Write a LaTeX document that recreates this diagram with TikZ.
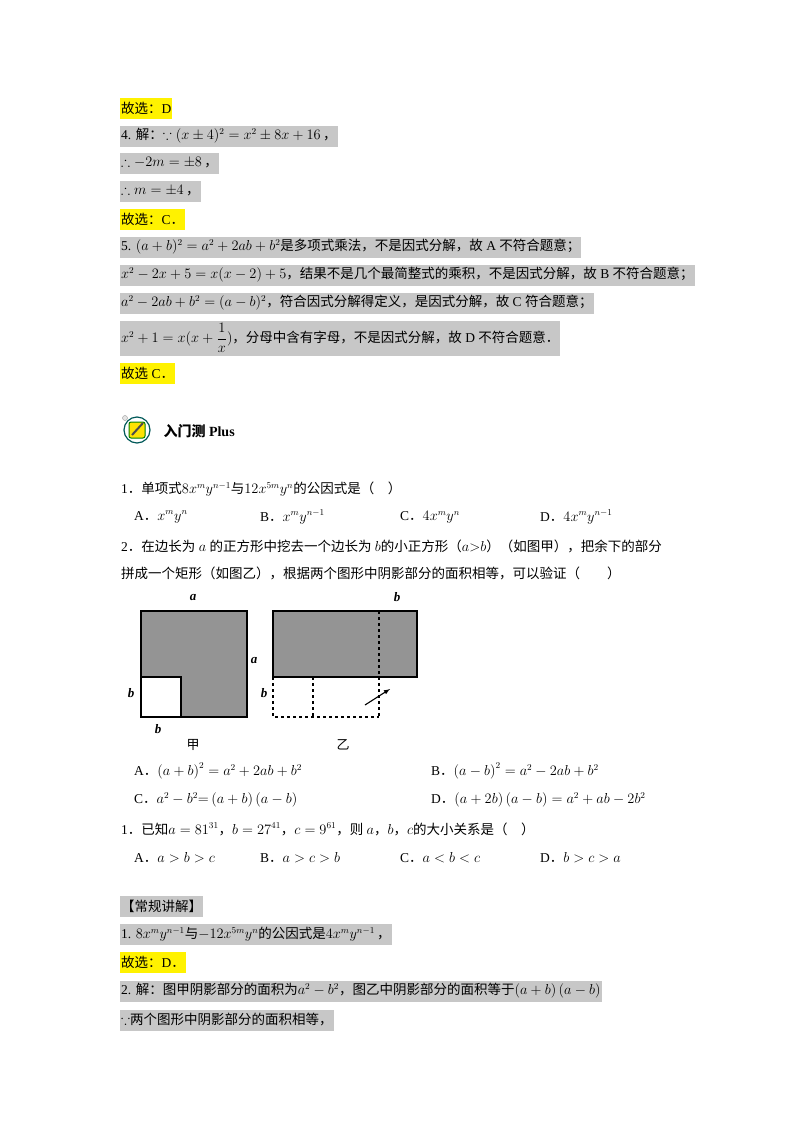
\documentclass[tikz,border=0pt]{standalone}
\usepackage{amsmath,amssymb}
\usepackage{fontspec}
\setmainfont{Liberation Serif}
\newfontfamily\cjk{Noto Sans CJK SC}
\newcommand\zh[1]{{\cjk #1}}
\newcommand\fc{{\cjk ，}}
\newcommand\fp{{\cjk ．}}
\begin{document}
\begin{tikzpicture}[x=1pt,y=-1pt,
  txt/.style={anchor=west,inner xsep=1pt,inner ysep=0pt,font=\fontsize{13.5}{15}\selectfont},
  gbox/.style={txt,fill=black!22,minimum height=21pt},
  ybox/.style={txt,fill=yellow,minimum height=21pt},
  lab/.style={font=\fontsize{13}{15}\selectfont\itshape\bfseries},
  shade/.style={fill=black!42,draw=black,line width=1.2pt},
  dsh/.style={dashed,line width=1.1pt}]
\useasboundingbox[fill=white] (0,0) rectangle (800,1132);
% top solutions
\node[ybox] (s1) at (120,108) {\zh{故选：}D};
\node[gbox] (s2) at (120,136) {4. \zh{解：}$\because (x\pm4)^2=x^2\pm8x+16$\,\fc};
\node[gbox] (s3) at (120,163) {$\therefore -2m=\pm8$\,\fc};
\node[gbox] (s4) at (120,191) {$\therefore m=\pm4$\,\fc};
\node[ybox] (s5) at (120,219) {\zh{故选：}C\fp};
\node[gbox] (s6) at (120,247) {5. $(a+b)^2=a^2+2ab+b^2$\zh{是多项式乘法，不是因式分解，故} A \zh{不符合题意；}};
\node[gbox] (s7) at (120,275) {$x^2-2x+5=x(x-2)+5$\zh{，结果不是几个最简整式的乘积，不是因式分解，故} B \zh{不符合题意；}};
\node[gbox] (s8) at (120,303) {$a^2-2ab+b^2=(a-b)^2$\zh{，符合因式分解得定义，是因式分解，故} C \zh{符合题意；}};
\node[gbox,minimum height=35pt] (s9) at (120,338) {$x^2+1=x(x+\dfrac1x)$\zh{，分母中含有字母，不是因式分解，故} D \zh{不符合题意．}};
\node[ybox] (s10) at (120,373) {\zh{故选} C\fp};
% icon
\draw[teal!70!black,line width=1.2pt] (137,430) circle (13);
\draw[black!40,fill=black!10] (125,418) circle (2.5);
\fill[yellow!85!orange,draw=green!50!black,line width=1pt,rounded corners=2pt] (129,422) rectangle (145,438);
\draw[black!70,line width=2pt] (132,435) -- (143,423);
\node[anchor=west,font=\fontsize{14}{16}\selectfont\bfseries] (title) at (160,431) {\zh{入门测} Plus};
% question 1
\node[txt] (q1) at (120,489) {1\fp\zh{单项式}$8x^my^{n-1}$\zh{与}$12x^{5m}y^n$\zh{的公因式是（\quad）}};
\node[txt] (q1a) at (133,517) {A\fp$x^my^n$};
\node[txt] (q1b) at (259,517) {B\fp$x^my^{n-1}$};
\node[txt] (q1c) at (399,517) {C\fp$4x^my^n$};
\node[txt] (q1d) at (539,517) {D\fp$4x^my^{n-1}$};
\node[txt] (q2) at (120,546) {2\fp\zh{在边长为} $a$ \zh{的正方形中挖去一个边长为} $b$\zh{的小正方形（}$a{>}b$\zh{）（如图甲），把余下的部分}};
\node[txt] (q2b) at (120,573) {\zh{拼成一个矩形（如图乙），根据两个图形中阴影部分的面积相等，可以验证（\qquad）}};
% figure jia
\draw[shade] (141,611) rectangle (247,717);
\draw[fill=white,draw=black,line width=1.2pt] (141,677) rectangle (181,717);
\node[lab] (la1) at (193,597) {a};
\node[lab] (la2) at (254,660) {a};
\node[lab] (lb1) at (131,693) {b};
\node[lab] (lb2) at (158,729) {b};
\node[font=\fontsize{13}{15}\selectfont] (jia) at (193,745) {\zh{甲}};
% figure yi
\draw[shade] (273,611) rectangle (417,677);
\draw[dsh] (379,611) -- (379,717);
\draw[dsh] (273,677) -- (273,717) -- (379,717);
\draw[dsh] (313,677) -- (313,717);
\coordinate (ar1) at (365,705);
\coordinate (ar2) at (390,689);
\draw[-latex,line width=1.1pt] (ar1) -- (ar2);
\node[lab] (lb3) at (397,597) {b};
\node[lab] (lb4) at (264,693) {b};
\node[font=\fontsize{13}{15}\selectfont] (yi) at (343,745) {\zh{乙}};
% options
\node[txt] (o1) at (133,771) {A\fp$\left(a+b\right)^2=a^2+2ab+b^2$};
\node[txt] (o2) at (430,771) {B\fp$\left(a-b\right)^2=a^2-2ab+b^2$};
\node[txt] (o3) at (133,800) {C\fp$a^2-b^2{=}\left(a+b\right)\left(a-b\right)$};
\node[txt] (o4) at (430,800) {D\fp$\left(a+2b\right)\left(a-b\right)=a^2+ab-2b^2$};
\node[txt] (q3) at (120,829) {1\fp\zh{已知}$a=81^{31}$\fc$b=27^{41}$\fc$c=9^{61}$\fc\zh{则} $a$\fc$b$\fc$c$\zh{的大小关系是（\quad）}};
\node[txt] (q3a) at (133,858) {A\fp$a>b>c$};
\node[txt] (q3b) at (259,858) {B\fp$a>c>b$};
\node[txt] (q3c) at (399,858) {C\fp$a<b<c$};
\node[txt] (q3d) at (539,858) {D\fp$b>c>a$};
% explanation
\node[gbox] (e1) at (120,906) {\zh{【常规讲解】}};
\node[gbox] (e2) at (120,934) {1. $8x^my^{n-1}$\zh{与}$-12x^{5m}y^n$\zh{的公因式是}$4x^my^{n-1}$\,\fc};
\node[ybox] (e3) at (120,962) {\zh{故选：}D\fp};
\node[gbox] (e4) at (120,991) {2. \zh{解：图甲阴影部分的面积为}$a^2-b^2$\zh{，图乙中阴影部分的面积等于}$\left(a+b\right)\left(a-b\right)$};
\node[gbox] (e5) at (120,1020) {$\because$\zh{两个图形中阴影部分的面积相等，}};
\end{tikzpicture}
\end{document}
